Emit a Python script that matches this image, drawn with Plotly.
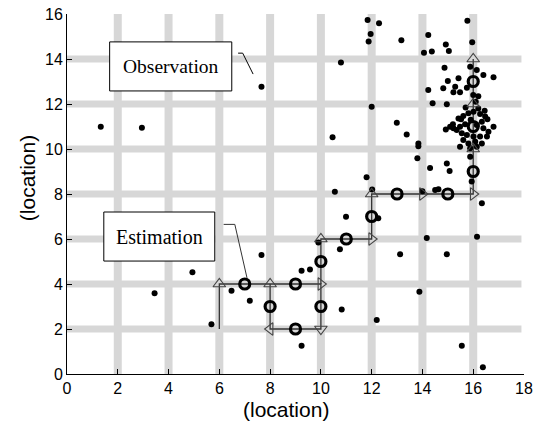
import plotly.graph_objects as go

# Observations (dots)
obs_x = [1.33, 2.95, 3.45, 4.94, 5.69, 6.48, 7.2, 7.66, 7.66, 9.24, 9.57, 9.24, 9.9, 10.75, 10.82,
         10.99, 10.55, 10.46, 10.79, 11.8, 12.02, 12.26, 11.84, 12.29, 11.96, 11.88, 12.0, 12.2,
         13.17, 12.99, 13.38, 13.12, 13.84, 13.84, 13.8, 13.88, 14.0, 14.5, 14.63, 14.17, 14.3,
         14.96, 15.07, 14.96, 15.55, 16.38, 16.34, 16.15, 15.94, 15.88,
         14.23, 14.06, 14.37, 14.92, 15.04, 15.77, 15.96, 14.87, 14.23, 14.4, 14.96, 14.82, 15.0,
         15.42, 16.8, 15.29, 15.22, 15.48, 15.75, 16.4, 16.14, 15.88, 16.0, 16.2, 16.1,
         15.52, 15.61, 15.81, 16.01, 16.27, 16.47, 16.56, 16.34, 16.8, 14.92, 15.09, 15.22, 15.35,
         15.48, 15.68, 16.14, 16.4, 16.6, 15.55, 15.75, 16.01, 16.27, 16.54, 15.61, 15.81, 15.48,
         16.08, 16.34, 15.88, 16.14, 15.42, 15.2, 15.9, 16.2, 15.7, 16.45]
obs_y = [10.99, 10.95, 3.59, 4.52, 2.21, 3.7, 3.26, 12.77, 5.29, 4.59, 4.65, 1.26, 5.84, 5.54, 2.87,
         6.99, 8.1, 10.52, 13.85, 8.74, 8.2, 6.92, 15.73, 15.59, 15.11, 14.78, 11.88, 2.4,
         14.83, 11.17, 10.65, 5.32, 10.25, 10.12, 9.59, 3.66, 8.12, 8.18, 8.21, 6.05, 9.16,
         9.36, 9.02, 5.32, 1.26, 0.3, 7.59, 6.1, 8.55, 9.66,
         15.07, 14.28, 14.33, 14.65, 14.36, 15.7, 14.74, 13.61, 12.62, 12.03, 11.99, 12.7, 13.02,
         13.14, 13.19, 12.77, 12.52, 12.52, 12.72, 13.29, 13.51, 13.66, 12.4, 12.35, 12.1,
         11.32, 11.47, 11.59, 11.66, 11.56, 11.44, 11.32, 11.21, 10.99, 10.87, 10.99, 10.92, 10.84,
         10.99, 11.1, 11.07, 10.92, 10.77, 10.7, 10.62, 10.55, 10.55, 10.55, 10.4, 10.25, 10.1,
         10.32, 10.25, 10.03, 10.1, 11.36, 11.1, 11.3, 11.8, 11.85, 11.7]

# Estimated path (polyline vertices, None = break)
path_x = [6, 6, 10, 10, 8, 8, None, 10, 10, 12, 12, 16, 16]
path_y = [2, 4, 4, 2, 2, 4, None, 4, 6, 6, 8, 8, 14]

# Arrowheads
up_x = [6, 8, 10, 12, 16, 16, 16]
up_y = [4, 4, 6, 8, 10, 12, 14]
right_x = [10, 12, 14, 16]
right_y = [4, 6, 8, 8]
down_x = [10]
down_y = [2]
left_x = [8]
left_y = [2]

# Estimates (circles)
est_x = [7, 8, 9, 9, 10, 10, 11, 12, 13, 15, 16, 16, 16]
est_y = [4, 3, 4, 2, 3, 5, 6, 7, 8, 8, 9, 11, 13]

# Grid bands
band_x = [2, 4, 6, 8, 10, 12, 14, 16]
band_y = [2, 4, 6, 8, 10, 12, 14]

x_ticks = [0, 2, 4, 6, 8, 10, 12, 14, 16, 18]
y_ticks = [0, 2, 4, 6, 8, 10, 12, 14, 16]

BAND = "#d7d7d7"
fig = go.Figure()

shapes = []
for bx in band_x:
    shapes.append(dict(type="line", xref="x", yref="y", x0=bx, x1=bx, y0=0, y1=16.1,
                       line=dict(color=BAND, width=8), layer="below"))
for by in band_y:
    shapes.append(dict(type="line", xref="x", yref="y", x0=0, x1=17.9, y0=by, y1=by,
                       line=dict(color=BAND, width=7), layer="below"))

# annotation boxes
shapes.append(dict(type="rect", xref="x", yref="y", x0=1.68, x1=6.49, y0=12.58, y1=14.76,
                   fillcolor="white", line=dict(color="black", width=1), layer="above"))
shapes.append(dict(type="rect", xref="x", yref="y", x0=1.45, x1=5.82, y0=5.02, y1=7.2,
                   fillcolor="white", line=dict(color="black", width=1), layer="above"))
shapes.append(dict(type="path", xref="x", yref="y", path="M 6.74 14.26 L 6.92 14.26 L 7.33 13.33",
                   line=dict(color="black", width=1), layer="above"))
shapes.append(dict(type="path", xref="x", yref="y", path="M 6.17 6.65 L 6.61 6.65 L 7.09 4.27",
                   line=dict(color="#333", width=1), layer="above"))

fig.add_trace(go.Scatter(x=path_x, y=path_y, mode="lines", line=dict(color="#333", width=1.3),
                         connectgaps=False, hoverinfo="skip"))
fig.add_trace(go.Scatter(x=obs_x, y=obs_y, mode="markers",
                         marker=dict(color="black", size=6)))
for xs, ys, sym in [(up_x, up_y, "triangle-up-open"), (right_x, right_y, "triangle-right-open"),
                    (down_x, down_y, "triangle-down-open"), (left_x, left_y, "triangle-left-open")]:
    fig.add_trace(go.Scatter(x=xs, y=ys, mode="markers",
                             marker=dict(symbol=sym, size=11, color="#444", line=dict(width=1.1))))
fig.add_trace(go.Scatter(x=est_x, y=est_y, mode="markers",
                         marker=dict(symbol="circle-open", size=10, color="black", line=dict(width=3.2))))

fig.add_annotation(x=4.08, y=13.67, xref="x", yref="y", text="Observation", showarrow=False,
                   font=dict(family="Liberation Serif", size=19.5, color="black"))
fig.add_annotation(x=3.63, y=6.11, xref="x", yref="y", text="Estimation", showarrow=False,
                   font=dict(family="Liberation Serif", size=20, color="black"))

# axis titles as annotations (positioned like the reference)
title_font = dict(family="Liberation Sans", size=21, color="black")
fig.add_annotation(x=0.48, y=0, xref="paper", yref="paper", yshift=-35, yanchor="middle",
                   text="(location)", showarrow=False, font=title_font)
fig.add_annotation(x=0, y=0.544, xref="paper", yref="paper", xshift=-40, xanchor="center",
                   yanchor="middle", textangle=-90, text="(location)", showarrow=False, font=title_font)

axis_common = dict(showgrid=False, zeroline=False, showline=True, linecolor="black", linewidth=1,
                   ticks="inside", ticklen=5, tickcolor="black", automargin=False,
                   ticklabeloverflow="allow",
                   tickfont=dict(family="Liberation Sans", size=16, color="black"))
fig.update_layout(
    width=536, height=414, showlegend=False,
    paper_bgcolor="white", plot_bgcolor="white",
    margin=dict(l=59, r=20, t=6, b=48),
    shapes=shapes,
    xaxis=dict(range=[0, 18], tickvals=x_ticks, ticktext=[str(v) for v in x_ticks], **axis_common),
    yaxis=dict(range=[0, 16], tickvals=y_ticks, ticktext=[str(v) for v in y_ticks], **axis_common),
)
fig.write_html("out.html")
